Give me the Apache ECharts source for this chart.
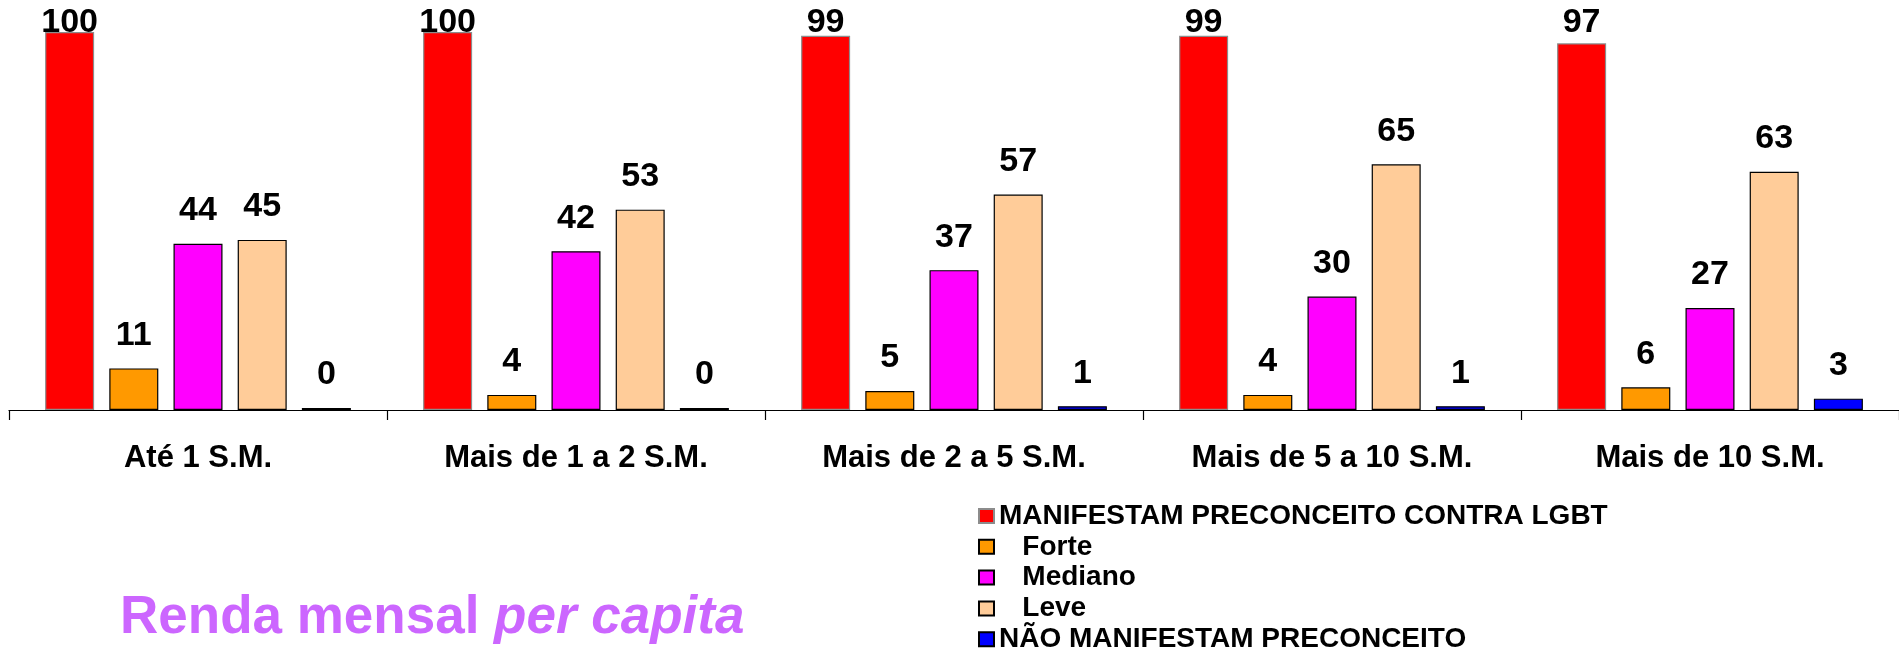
<!DOCTYPE html>
<html>
<head>
<meta charset="utf-8">
<script src="https://cdn.jsdelivr.net/npm/echarts@6/dist/echarts.min.js"></script>
<style>
  html, body { margin: 0; padding: 0; background: #fff; }
  #chart { width: 1899px; height: 652px; }
</style>
</head>
<body>
<div id="chart"></div>
<script>
// Income brackets (salários mínimos per capita)
const categories = ['Até 1 S.M.', 'Mais de 1 a 2 S.M.', 'Mais de 2 a 5 S.M.', 'Mais de 5 a 10 S.M.', 'Mais de 10 S.M.'];

// Percentages per bracket
const manifestam = [100, 100, 99, 99, 97];
const forte = [11, 4, 5, 4, 6];
const mediano = [44, 42, 37, 30, 27];
const leve = [45, 53, 57, 65, 63];
const naoManifestam = [0, 0, 1, 1, 3];

const seriesNames = ['MANIFESTAM PRECONCEITO CONTRA LGBT', 'Forte', 'Mediano', 'Leve', 'NÃO MANIFESTAM PRECONCEITO'];
const indentedNames = ['Forte', 'Mediano', 'Leve'];

const FONT = "'Liberation Sans', Arial, Helvetica, sans-serif";

function bar(name, data, color, borderColor) {
  return {
    name: name,
    type: 'bar',
    data: data,
    barWidth: 49,
    barGap: '31%',
    itemStyle: { color: color, borderColor: borderColor, borderWidth: 1.2 },
    label: {
      show: true,
      position: 'top',
      distance: 16,
      color: '#000',
      fontFamily: FONT,
      fontWeight: 'bold',
      fontSize: 34
    },
    emphasis: { disabled: true }
  };
}

const chart = echarts.init(document.getElementById('chart'), null, { renderer: 'canvas' });

const noPrejudice = bar(seriesNames[4], naoManifestam, '#0000FF', '#000');
// zero values still show as a thin outlined sliver on the axis
noPrejudice.barMinHeight = 2;

chart.setOption({
  animation: false,
  backgroundColor: '#fff',
  title: {
    text: '{a|Renda mensal\u00a0}{b|per capita}',
    left: 115,
    top: 587,
    textStyle: {
      rich: {
        a: { fontFamily: FONT, fontWeight: 'bold', fontSize: 53, color: '#CC66FF' },
        b: { fontFamily: FONT, fontWeight: 'bold', fontStyle: 'italic', fontSize: 53, color: '#CC66FF' }
      }
    }
  },
  legend: {
    orient: 'vertical',
    left: 973,
    top: 497,
    height: 160,
    itemWidth: 15,
    itemHeight: 14,
    itemGap: 2.8,
    icon: 'rect',
    data: seriesNames,
    formatter: function (name) {
      return indentedNames.indexOf(name) >= 0 ? '\u00a0\u00a0\u00a0' + name : name;
    },
    textStyle: {
      fontFamily: FONT,
      fontWeight: 'bold',
      fontSize: 28,
      lineHeight: 26,
      color: '#000'
    },
    selectedMode: false
  },
  grid: {
    left: 9,
    width: 1900,
    top: 32,
    bottom: 242,
    containLabel: false
  },
  xAxis: {
    type: 'category',
    data: categories,
    axisLine: { lineStyle: { color: '#000', width: 1.2 } },
    axisTick: { show: true, length: 10, lineStyle: { color: '#000', width: 1.2 } },
    axisLabel: {
      margin: 33,
      color: '#000',
      fontFamily: FONT,
      fontWeight: 'bold',
      fontSize: 31
    }
  },
  yAxis: {
    type: 'value',
    min: 0,
    max: 100,
    show: false
  },
  labelLayout: function (params) {
    // keep the tallest bars' labels inside the canvas
    const minTop = 5.6;
    if (params.labelRect.y < minTop) {
      return { dy: minTop - params.labelRect.y };
    }
    return {};
  },
  series: [
    bar(seriesNames[0], manifestam, '#FF0000', '#8C8C8C'),
    bar(seriesNames[1], forte, '#FF9900', '#000'),
    bar(seriesNames[2], mediano, '#FF00FF', '#000'),
    bar(seriesNames[3], leve, '#FFCC99', '#000'),
    noPrejudice
  ]
});
</script>
</body>
</html>
